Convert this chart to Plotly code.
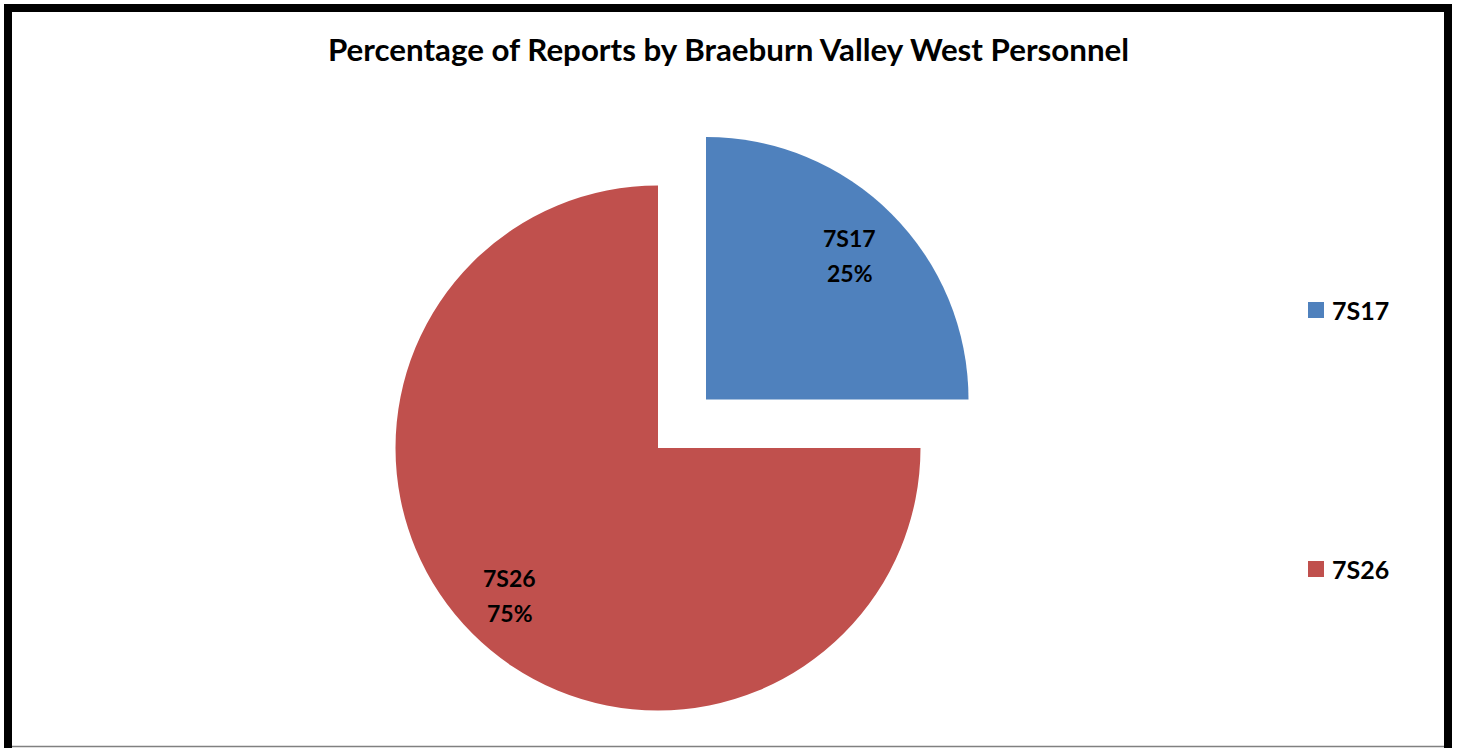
import math
import plotly.graph_objects as go

# ---- data ----
TITLE = "Percentage of Reports by Braeburn Valley West Personnel"
labels = ["7S17", "7S26"]
values = [25, 75]
colors = ["#4F81BD", "#C0504D"]
pulled = [True, False]

# ---- layout constants (pixels) ----
W, H = 1457, 748
R = 262.5
CENTER = (658.0, 448.0)
PULL_OFFSET = (48.0, -48.5)
LABEL_R = [0.775, 0.80]
FONT = "Lato"
TRANSPARENT = "rgba(0,0,0,0)"


def px_to_paper(x, y):
    return x / W, 1 - y / H


fig = go.Figure()
total = sum(values)
start = 0.0
annotations = []
for i, (lab, val) in enumerate(zip(labels, values)):
    cx, cy = CENTER
    if pulled[i]:
        cx += PULL_OFFSET[0]
        cy += PULL_OFFSET[1]
    x0, y1 = px_to_paper(cx - R, cy - R)
    x1, y0 = px_to_paper(cx + R, cy + R)
    slice_colors = [c if j == i else TRANSPARENT for j, c in enumerate(colors)]
    fig.add_trace(go.Pie(
        labels=labels, values=values, sort=False, direction="clockwise",
        marker=dict(colors=slice_colors, line=dict(width=0)),
        textinfo="none", hoverinfo="label+percent", showlegend=False,
        domain=dict(x=[x0, x1], y=[y0, y1]),
    ))
    frac = val / total
    mid = (start + frac / 2) * 2 * math.pi
    start += frac
    lx = cx + LABEL_R[i] * R * math.sin(mid)
    ly = cy - LABEL_R[i] * R * math.cos(mid)
    px, py = px_to_paper(lx, ly)
    for txt, shift in ((lab, 18), (f"{round(100 * frac)}%", -17)):
        annotations.append(dict(
            x=px, y=py, xref="paper", yref="paper", text=f"<b>{txt}</b>",
            showarrow=False, xanchor="center", yanchor="middle", yshift=shift,
            font=dict(family=FONT, size=23, color="black"),
        ))

# ---- legend (drawn manually to reproduce the wide spacing) ----
LEG_X = 1308
LEG_Y = [310, 569]
SQ = 16
shapes = []
for i, lab in enumerate(labels):
    sx0, sy1 = px_to_paper(LEG_X, LEG_Y[i] - SQ / 2)
    sx1, sy0 = px_to_paper(LEG_X + SQ, LEG_Y[i] + SQ / 2)
    shapes.append(dict(type="rect", xref="paper", yref="paper",
                       x0=sx0, x1=sx1, y0=sy0, y1=sy1,
                       fillcolor=colors[i], line=dict(width=0)))
    tx, ty = px_to_paper(LEG_X + SQ + 6, LEG_Y[i])
    annotations.append(dict(
        x=tx, y=ty, xref="paper", yref="paper", text=f"<b>{lab}</b>",
        showarrow=False, xanchor="left", yanchor="middle",
        font=dict(family=FONT, size=25, color="black"),
    ))

# ---- frame ----
fx0, fy1 = px_to_paper(8, 8)
fx1, fy0 = px_to_paper(1448, 770)
shapes.append(dict(type="rect", xref="paper", yref="paper",
                   x0=fx0, x1=fx1, y0=fy0, y1=fy1,
                   line=dict(color="black", width=8), fillcolor=TRANSPARENT))
gx0, gy = px_to_paper(12, 746.5)
gx1, _ = px_to_paper(1444, 746.5)
shapes.append(dict(type="line", xref="paper", yref="paper",
                   x0=gx0, x1=gx1, y0=gy, y1=gy,
                   line=dict(color="#808080", width=1.5)))

fig.update_layout(
    width=W, height=H,
    margin=dict(l=0, r=0, t=0, b=0),
    paper_bgcolor="white", plot_bgcolor="white",
    title=dict(text=f"<b>{TITLE}</b>", x=0.5, xanchor="center",
               y=1 - 50 / H, yanchor="middle", yref="container",
               font=dict(family=FONT, size=31.3, color="black")),
    shapes=shapes, annotations=annotations,
)

fig.write_html(
    "out.html",
    config={"displayModeBar": False},
    post_script="document.body.style.margin='0';document.body.style.overflow='hidden';",
)
